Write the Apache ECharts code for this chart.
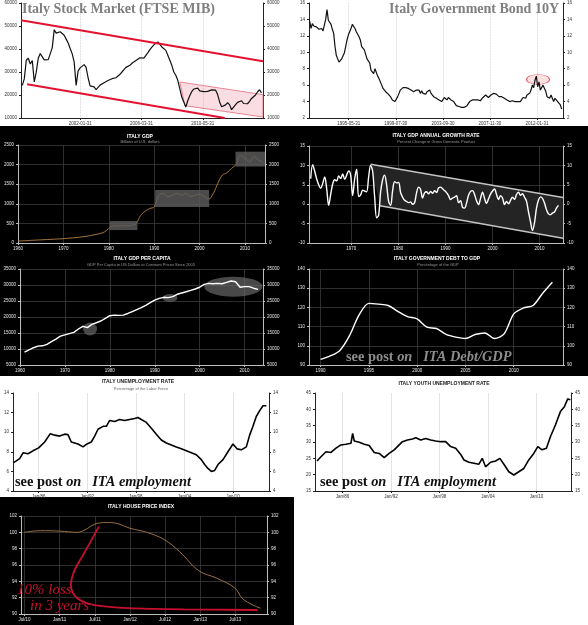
<!DOCTYPE html>
<html><head><meta charset="utf-8">
<script src="https://cdn.jsdelivr.net/npm/echarts@6/dist/echarts.min.js"></script>
<style>html,body{margin:0;padding:0;background:#fff}#c{width:588px;height:625px}</style>
</head><body><div id="c"></div>
<script>
// ---------- DATA ----------
// Italy stock market (index points), sampled from 1998.15 every 0.1354 yr
const stockStart = 1998.15, stockStep = 0.1354;
const stockValues = [24200,27100,35100,36000,33500,35000,25700,30000,36000,38000,
37500,35300,34700,35400,36000,40500,48400,46900,47000,47500,
47500,46000,44300,42600,40200,38000,34400,24200,30500,31800,
32500,33200,32000,27500,24000,24000,23500,22300,22800,24300,
25000,25300,26000,26300,26700,27100,27400,27500,28200,29000,
30000,31000,32000,32500,32900,33800,34500,35000,35600,36200,
36700,36000,36500,38400,39700,40800,41800,42500,43100,42300,
40900,41200,39400,37300,35100,32900,30000,28600,26400,22800,
19100,17000,14800,17500,19700,21500,22600,22500,23000,21800,
21400,21500,20900,21600,21500,22200,22600,22100,20200,17000,
14900,15000,15700,16700,15700,13600,14200,15800,16800,17500,
17500,16300,16700,16200,17200,18500,19200,20000,21300,22300,20900];
const stockTickValues = [2002.08, 2006.25, 2010.41];
const stockTickLabels = ['2002-01-31','2006-03-31','2010-05-31'];
const stockUpperTrend = [[1998.06,52500],[2014.5,34650]];
const stockLowerTrend = [[1998.47,24650],[2011.9,10000]];
const stockChannel = [[2008.85,25660],[2014.5,20150],[2014.5,10435],[2009.19,15365]];

// Italy 10Y bond yield (%), sampled from 1991.96 every 0.118 yr
const bondStart = 1991.96, bondStep = 0.118;
const bondValues = [13.8,12.9,13.5,13.2,13.4,13.1,13.0,12.8,12.9,12.9,
12.6,12.8,14.0,15.2,13.9,13.7,13.4,12.8,12.3,10.7,
9.6,9.4,8.8,8.6,9.2,9.0,9.9,10.7,11.5,12.1,
12.5,12.9,13.4,13.6,12.9,12.5,12.3,11.9,11.5,10.7,
10.9,10.3,10.5,9.2,9.4,8.7,7.8,7.6,7.4,8.0,
7.8,7.1,6.8,6.4,6.0,5.6,5.4,5.2,5.0,4.9,
4.8,4.5,4.2,4.1,4.0,4.2,4.6,5.0,5.4,5.5,
5.7,5.6,5.7,5.6,5.6,5.5,5.4,5.5,5.2,5.3,
5.4,5.2,5.4,5.0,5.3,5.0,5.2,4.9,5.2,5.4,
5.4,5.0,5.0,4.6,4.6,4.4,4.5,4.2,4.1,4.0,
4.2,4.5,4.4,4.2,4.5,4.4,4.2,4.1,4.0,3.8,
3.5,3.4,3.4,3.3,3.3,3.4,3.3,3.4,3.5,3.7,
4.0,4.1,4.2,4.4,4.2,4.1,4.2,4.2,4.1,4.2,
4.5,4.6,4.8,4.6,4.5,4.6,4.8,4.6,5.0,5.2,
4.9,5.0,4.6,4.8,4.6,4.5,4.4,4.2,4.2,4.1,
4.0,4.0,4.1,4.0,4.0,4.2,4.0,3.8,4.0,4.2,
4.5,4.6,4.4,4.8,4.6,5.0,5.4,6.0,5.7,6.6,
7.1,5.8,6.4,5.4,5.2,6.0,6.1,5.3,4.6,4.8,
4.4,4.8,4.4,4.0,4.4,4.2,4.0,4.1,3.6,3.1];
const bondTickValues = [1995.41, 1999.58, 2003.75, 2007.91, 2012.08];
const bondTickLabels = ['1995-05-31','1999-07-30','2003-09-30','2007-11-30','2012-01-31'];
const bondHighlight = [[2012.17, 6.7]];

// Italy GDP (billions USD)
const gdpYears = [];
for (let y = 1960; y <= 2014; y++) gdpYears.push(y);
const gdpValues = [51,55,60,68,75,80,86,92,98,104,
110,120,130,140,155,170,190,215,240,280,
370,440,430,445,440,450,495,700,810,880,
920,1220,1260,1180,1220,1260,1220,1260,1190,1220,
1240,1190,1120,1260,1520,1730,1790,1900,2000,2240,
2160,2070,2200,2120,2060];
const gdpBoxes = [[1980.2,560,1986.3,330],[1990.2,1350,2002.1,920],[2007.9,2330,2014.4,1950]];

// Italy GDP annual growth rate (%), sampled from 1961.36 every 0.4248 yr
const growthStart = 1961.36, growthStep = 0.4248;
const growthValues = [6.6,10.2,8.5,6.5,5.0,4.1,5.3,7.0,4.0,-0.3,
2.5,5.2,6.3,6.0,7.3,6.6,7.8,6.4,7.5,8.6,
7.5,2.2,6.5,9.0,2.0,2.4,3.6,3.4,3.2,7.0,
10.0,8.5,2.0,-3.5,-2.8,3.2,6.3,7.5,4.9,0.7,
-0.3,3.5,5.8,5.5,5.6,3.0,1.8,1.0,0.7,0.4,
0.6,0.0,0.4,3.0,4.4,3.8,1.6,2.9,3.2,2.7,
3.3,2.8,3.5,3.0,4.2,4.4,4.0,3.5,3.0,2.2,
1.2,1.6,1.8,2.2,0.4,0.9,-0.8,-1.0,0.3,2.3,
3.3,3.5,2.5,0.9,-0.1,1.5,3.1,1.5,0.2,1.4,
2.6,3.4,3.9,2.5,1.2,2.2,1.6,-0.1,0.7,0.1,
1.0,1.8,1.2,2.5,3.1,2.3,2.7,1.8,0.8,-2.0,
-4.5,-6.8,-4.8,-1.0,1.1,1.9,1.5,0.3,-1.4,-2.5,
-2.7,-2.3,-2.0,-1.0,-0.3];
const growthChannel = [[1974.1,10.3],[2015,1.7],[2015,-8.8],[1976.1,-0.4]];

// Italy GDP per capita (constant USD)
const pcYears = [];
for (let y = 1961; y <= 2013; y++) pcYears.push(y);
const pcValues = [9000,9700,10400,10900,11000,11450,12300,13100,14000,
14400,14800,15200,16250,17100,16700,17700,18200,18750,19600,
20400,20600,20500,20600,21100,21700,22300,22900,23650,24500,
25300,25800,26150,26050,26350,27100,27500,27900,28300,28750,
29300,30200,30500,30400,30500,30400,30800,31250,31000,29300,
29500,29500,29000,28650];
const pcHighlights = [[1975.6,16250],[1993.4,25940],[2007.5,29480]];

// Italy government debt to GDP (%)
const debtYears = [];
for (let y = 1990; y <= 2014; y++) debtYears.push(y);
const debtValues = [92.9,94.7,97.6,105.3,116.2,122.1,121.7,121.0,117.9,115.2,
114.0,109.7,109.0,105.9,104.5,103.8,105.9,106.7,103.8,106.2,
116.6,119.7,121.0,127.4,133.1];

// Italy unemployment rate (%)
const unempYears = [1982.91,1983.65,1984.07,1984.68,1985.3,1986.0,1986.74,1987.44,1987.98,1988.59,
1989.21,1989.62,1990.03,1990.86,1991.48,1991.97,1992.5,1992.92,1993.33,1993.95,
1994.36,1994.77,1995.39,1996.0,1996.62,1997.24,1997.86,1998.27,1998.68,1999.3,
1999.92,2000.53,2001.15,2001.77,2002.39,2003.0,2003.62,2004.24,2004.86,2005.47,
2006.09,2006.5,2006.91,2007.33,2007.74,2008.15,2008.77,2009.38,2010.0,2010.5,
2011.03,2011.65,2012.06,2012.47,2012.88,2013.3,2013.71,2014.12];
const unempValues = [6.9,7.3,7.9,7.8,8.1,8.4,9.0,9.85,9.7,9.6,
9.8,9.75,9.0,8.8,8.5,8.8,9.0,9.6,10.3,10.6,
10.6,11.2,11.1,11.3,11.2,11.3,11.4,11.5,11.3,11.0,
10.4,9.8,9.2,8.9,8.7,8.5,8.3,8.1,7.9,7.7,
7.2,6.7,6.3,6.0,6.1,6.7,7.2,8.0,8.8,8.3,
8.2,8.5,9.7,10.6,11.6,12.2,12.7,12.7];
const unempTickValues = [1986,1992,1998,2004,2010];
const unempTickLabels = ['Jan/86','Jan/92','Jan/98','Jan/04','Jan/10'];

// Italy youth unemployment rate (%)
const youthYears = [1982.83,1983.32,1983.94,1984.56,1985.18,1985.79,1986.41,1987.03,1987.24,1987.44,
1988.06,1988.68,1989.29,1989.91,1990.53,1991.15,1991.76,1992.38,1992.79,1993.41,
1994.03,1994.65,1995.06,1995.67,1996.29,1996.91,1997.53,1998.14,1998.76,1999.38,
2000.0,2000.62,2001.03,2001.64,2002.26,2002.88,2003.29,2003.7,2004.32,2004.94,
2005.47,2005.97,2006.58,2007.2,2007.82,2008.44,2009.05,2009.67,2010.17,2010.7,
2011.24,2011.73,2012.35,2012.97,2013.46,2013.87,2014.2];
const youthValues = [24.2,25.5,27.0,26.8,28.1,29.1,29.3,29.6,32.6,30.3,
29.9,29.3,28.9,26.8,26.5,25.2,26.5,27.6,28.6,30.1,
30.6,30.9,31.3,30.6,31.1,30.6,30.3,30.1,30.1,28.6,
28.1,26.2,24.5,23.8,23.5,23.2,25.0,22.4,23.8,24.2,
25.0,23.2,20.9,19.9,20.9,21.9,24.5,26.5,28.6,27.6,
28.1,31.6,35.2,39.3,40.8,43.2,42.9];

// Italy house price index
const houseYears = [2010.5,2010.73,2011.0,2011.25,2011.36,2011.5,2011.67,2011.81,2012.0,2012.24,
2012.49,2012.71,2012.98,2013.23,2013.49,2013.6,2013.75,2013.86];
const houseValues = [100.0,100.2,100.15,100.0,100.3,101.0,101.2,101.1,100.5,100.0,
99.1,97.6,95.3,94.4,93.2,91.9,91.1,90.7];
const houseTickValues = [2010.5,2011,2011.5,2012,2012.5,2013,2013.5];
const houseTickLabels = ['Jul/10','Jan/11','Jul/11','Jan/12','Jul/12','Jan/13','Jul/13'];
const houseLossCurve = [[2011.557,100.7],[2011.44,98.86],[2011.32,97.02],[2011.225,95.6],[2011.18,94.57],
[2011.16,93.55],[2011.18,92.73],[2011.25,91.92],[2011.39,91.31],[2011.675,90.9],[2012.05,90.69],
[2012.77,90.57],[2013.81,90.49]];

// ---------- CHART ----------
const grids = [], xAxes = [], yAxes = [], series = [];
const SANS = 'Liberation Sans', SERIF = 'Liberation Serif';
function lookup(vals, labs){
  return function(v){
    let best = 0, d = 1e9;
    vals.forEach((t,i)=>{ const dd = Math.abs(t - v); if (dd < d){ d = dd; best = i; } });
    return labs[best];
  };
}
function panel(c){
  const i = grids.length;
  grids.push({left:c.left, top:c.top, width:c.width, height:c.height, containLabel:false});
  const axisCol = c.dark ? '#bdbdbd' : '#222';
  const labCol = c.dark ? '#e6e6e6' : '#333';
  const gridCol = c.dark ? '#3a3a3a' : (c.dotted ? '#c8c8c8' : '#dcdcdc');
  xAxes.push({gridIndex:i, type:'value', min:c.xmin, max:c.xmax,
    axisLine:{show:true, onZero:false, lineStyle:{color:axisCol, width:1}},
    axisTick:{show:true, customValues:c.xticks, length:2, lineStyle:{color:axisCol}},
    axisLabel:{customValues:c.xticks, formatter:c.xfmt, fontSize:4.5, color:labCol, margin:3, fontFamily:SANS},
    splitLine:{show:true, customValues:c.xticks, lineStyle:{color:gridCol, type:c.dotted?'dotted':'solid', width:0.8}}});
  const ya = (pos, split) => ({gridIndex:i, type:'value', min:c.ymin, max:c.ymax, interval:c.yint, position:pos,
    axisLine:{show:true, onZero:false, lineStyle:{color:axisCol, width:1}},
    axisTick:{show:true, length:2, lineStyle:{color:axisCol}},
    axisLabel:{fontSize:4.5, color:labCol, margin:4, fontFamily:SANS, formatter:v => String(v)},
    splitLine:{show:split, lineStyle:{color:gridCol, width:0.8}}});
  yAxes.push(ya('left', !!c.gridY), ya('right', false));
  return {xAxisIndex:i, yAxisIndex:2*i};
}
function line(ax, data, color, width, extra){
  return Object.assign({type:'line', xAxisIndex:ax.xAxisIndex, yAxisIndex:ax.yAxisIndex, data:data,
    showSymbol:false, symbol:'none', silent:true, animation:false,
    lineStyle:{color:color, width:width}}, extra||{});
}
function polygon(ax, pts, style, z){
  return {type:'custom', xAxisIndex:ax.xAxisIndex, yAxisIndex:ax.yAxisIndex, data:[pts[0]], silent:true, animation:false, z:z||1,
    renderItem:(p, api)=>({type:'polygon', shape:{points: pts.map(pt=>api.coord(pt))}, style:style})};
}
const yearFmt = v => String(Math.round(v));

// 1. Stock market
const a1 = panel({left:21, top:3, width:242, height:115, xmin:1998.06, xmax:2014.5, xticks:stockTickValues,
  xfmt:lookup(stockTickValues, stockTickLabels), ymin:10000, ymax:60000, yint:10000, dark:false, dotted:true});
series.push(polygon(a1, stockChannel, {fill:'rgba(240,150,165,0.32)', stroke:'#e46a7c', lineWidth:0.8}, 1));
series.push(line(a1, stockValues.map((v,i)=>[stockStart + i*stockStep, v]), '#111', 1.2, {z:3}));
series.push(line(a1, stockUpperTrend, '#e3132f', 2, {z:4}));
series.push(line(a1, stockLowerTrend, '#e3132f', 2, {z:4}));

// 2. Bond
const a2 = panel({left:309, top:3, width:254, height:115, xmin:1991.9, xmax:2014.38, xticks:bondTickValues,
  xfmt:lookup(bondTickValues, bondTickLabels), ymin:2, ymax:16, yint:2, dark:false, dotted:true});
series.push({type:'scatter', xAxisIndex:a2.xAxisIndex, yAxisIndex:a2.yAxisIndex, data:bondHighlight, symbol:'circle',
  symbolSize:[23,10], silent:true, animation:false, z:1,
  itemStyle:{color:'rgba(250,170,170,0.45)', borderColor:'#e04050', borderWidth:0.8}});
series.push(line(a2, bondValues.map((v,i)=>[bondStart + i*bondStep, v]), '#111', 1.2, {z:3}));

// 3. GDP
const a3 = panel({left:18, top:145, width:247, height:98, xmin:1960, xmax:2014.4, xticks:[1960,1970,1980,1990,2000,2010],
  xfmt:yearFmt, ymin:0, ymax:2500, yint:500, dark:true, gridY:true});
series.push(line(a3, gdpYears.map((y,i)=>[y, gdpValues[i]]), '#a8773f', 1, {smooth:0.4, z:2}));
series.push({type:'custom', xAxisIndex:a3.xAxisIndex, yAxisIndex:a3.yAxisIndex, data:gdpBoxes, silent:true, animation:false, z:5,
  encode:{x:[0,2], y:[1,3]},
  renderItem:(p, api)=>{
    const p1 = api.coord([api.value(0), api.value(1)]), p2 = api.coord([api.value(2), api.value(3)]);
    return {type:'rect', shape:{x:p1[0], y:p1[1], width:p2[0]-p1[0], height:p2[1]-p1[1]},
      style:{fill:'rgba(92,92,92,0.82)'}};
  }});

// 4. GDP growth
const a4 = panel({left:309, top:146, width:254, height:97, xmin:1961, xmax:2015, xticks:[1970,1980,1990,2000,2010],
  xfmt:yearFmt, ymin:-10, ymax:15, yint:5, dark:true, gridY:true});
series.push(polygon(a4, growthChannel, {fill:'#242424'}, 1));
series.push(line(a4, [growthChannel[0], growthChannel[1]], '#c4c4c4', 1.5, {z:3}));
series.push(line(a4, [growthChannel[3], growthChannel[2]], '#c4c4c4', 1.5, {z:3}));
series.push(line(a4, growthValues.map((v,i)=>[growthStart + i*growthStep, v]), '#fff', 1.4, {smooth:0.35, z:4}));

// 5. GDP per capita
const a5 = panel({left:20, top:269, width:243, height:96, xmin:1960, xmax:2014.1, xticks:[1960,1970,1980,1990,2000,2010],
  xfmt:yearFmt, ymin:5000, ymax:35000, yint:5000, dark:true, gridY:true});
const pcHighlightSizes = [[14,13],[15,8],[58,20]];
series.push({type:'scatter', xAxisIndex:a5.xAxisIndex, yAxisIndex:a5.yAxisIndex, silent:true, animation:false, z:1,
  data:pcHighlights.map((p,i)=>({value:p, symbolSize:pcHighlightSizes[i]})), symbol:'circle',
  itemStyle:{color:'rgba(105,105,105,0.85)'}});
series.push(line(a5, pcYears.map((y,i)=>[y, pcValues[i]]), '#fff', 1.4, {z:3}));

// 6. Debt to GDP
const a6 = panel({left:309, top:269, width:254, height:96, xmin:1988.8, xmax:2015.1, xticks:[1990,1995,2000,2005,2010],
  xfmt:yearFmt, ymin:90, ymax:140, yint:10, dark:true, gridY:true});
series.push(line(a6, debtYears.map((y,i)=>[y, debtValues[i]]), '#fff', 1.4, {smooth:0.3, z:3}));

// 7. Unemployment
const a7 = panel({left:13, top:393, width:256, height:98, xmin:1982.83, xmax:2014.45, xticks:unempTickValues,
  xfmt:lookup(unempTickValues, unempTickLabels), ymin:4, ymax:14, yint:2, dark:false});
series.push(line(a7, unempYears.map((y,i)=>[y, unempValues[i]]), '#000', 1.6, {z:3}));

// 8. Youth unemployment
const a8 = panel({left:315, top:393, width:256, height:98, xmin:1982.58, xmax:2014.28, xticks:unempTickValues,
  xfmt:lookup(unempTickValues, unempTickLabels), ymin:15, ymax:45, yint:5, dark:false});
series.push(line(a8, youthYears.map((y,i)=>[y, youthValues[i]]), '#000', 1.6, {z:3}));

// 9. House price index
const a9 = panel({left:21, top:516, width:246, height:98, xmin:2010.45, xmax:2013.95, xticks:houseTickValues,
  xfmt:lookup(houseTickValues, houseTickLabels), ymin:90, ymax:102, yint:2, dark:true, gridY:true});
series.push(line(a9, houseYears.map((y,i)=>[y, houseValues[i]]), '#9a7045', 1, {smooth:0.4, z:3}));
series.push(line(a9, houseLossCurve, '#c8102e', 1.8, {smooth:0.5, z:4}));

// ---------- TEXT & BACKGROUNDS ----------
function txt(t, x, y, font, fill, align, extra){
  return Object.assign({type:'text', z:100, silent:true,
    style:{text:t, x:x, y:y, font:font, fill:fill, align:align||'center', textAlign:align||'center',
      verticalAlign:'middle', textVerticalAlign:'middle'}}, extra||{});
}
const tB = 'bold 5px ' + SANS, tS = '4px ' + SANS;
const postRich = (fill) => ({a:{font:'bold 14.4px ' + SERIF, fill:fill}, b:{font:'italic bold 14.4px ' + SERIF, fill:fill}});
const graphic = [
  {type:'rect', z:-100, silent:true, shape:{x:0, y:126, width:588, height:250}, style:{fill:'#000'}},
  {type:'rect', z:-100, silent:true, shape:{x:0, y:497, width:294, height:128}, style:{fill:'#000'}},
  txt('Italy Stock Market (FTSE MIB)', 22, 9, 'bold 14px ' + SERIF, '#7f7f7f', 'left'),
  txt('Italy Government Bond 10Y', 559, 9, 'bold 14px ' + SERIF, '#7f7f7f', 'right'),
  txt('ITALY GDP', 140, 137, tB, '#fff'),
  txt('Billions of U.S. dollars', 140, 142, tS, '#999'),
  txt('ITALY GDP ANNUAL GROWTH RATE', 436, 136, tB, '#fff'),
  txt('Percent Change in Gross Domestic Product', 436, 142, tS, '#999'),
  txt('ITALY GDP PER CAPITA', 142, 258.5, tB, '#fff'),
  txt('GDP Per Capita in US Dollars at Constant Prices Since 2005', 141, 264.5, tS, '#999'),
  txt('ITALY GOVERNMENT DEBT TO GDP', 437, 258.5, tB, '#fff'),
  txt('Percentage of the GDP', 438, 264.5, tS, '#999'),
  txt('ITALY UNEMPLOYMENT RATE', 138, 382, tB, '#222'),
  txt('Percentage of the Labor Force', 141, 388.5, tS, '#666'),
  txt('ITALY YOUTH UNEMPLOYMENT RATE', 444, 384, tB, '#222'),
  txt('ITALY HOUSE PRICE INDEX', 141, 507, tB, '#fff'),
  {type:'text', z:100, silent:true, style:{text:'{a|see post }{b|on   ITA Debt/GDP}', x:346, y:357, rich:postRich('#8c8c8c'),
    align:'left', textAlign:'left', verticalAlign:'middle', textVerticalAlign:'middle'}},
  {type:'text', z:100, silent:true, style:{text:'{a|see post }{b|on   ITA employment}', x:15, y:482, rich:postRich('#111'),
    align:'left', textAlign:'left', verticalAlign:'middle', textVerticalAlign:'middle'}},
  {type:'text', z:100, silent:true, style:{text:'{a|see post }{b|on   ITA employment}', x:320, y:482, rich:postRich('#111'),
    align:'left', textAlign:'left', verticalAlign:'middle', textVerticalAlign:'middle'}},
  txt('10% loss', 17, 590, 'italic 15px ' + SERIF, '#c8102e', 'left'),
  txt('in 3 years', 30, 606, 'italic 15px ' + SERIF, '#c8102e', 'left')
];

const chart = echarts.init(document.getElementById('c'), null, {renderer:'canvas', width:588, height:625});
chart.setOption({
  backgroundColor:'#fff',
  animation:false,
  grid:grids, xAxis:xAxes, yAxis:yAxes, series:series, graphic:graphic
});
</script></body></html>
